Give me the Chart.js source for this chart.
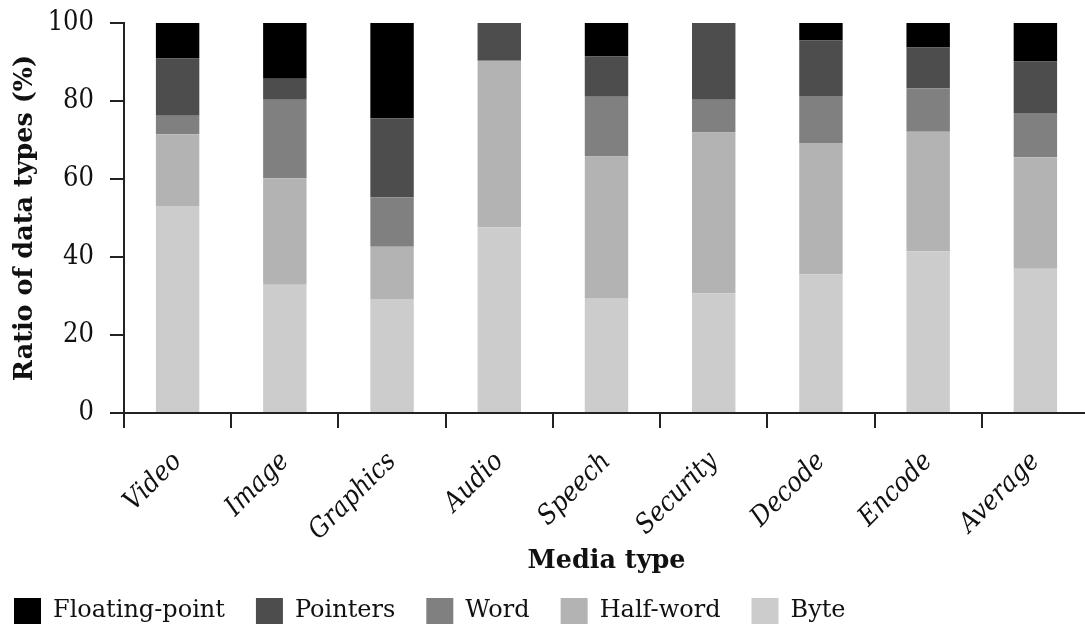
<!DOCTYPE html>
<html>
<head>
<meta charset="utf-8">
<script src="https://cdn.jsdelivr.net/npm/chart.js@4.4.1/dist/chart.umd.min.js"></script>
<style>
  html, body { margin: 0; padding: 0; background: #fff; overflow: hidden; }
  #wrap { width: 1092px; height: 625px; }
</style>
</head>
<body>
<div id="wrap"><canvas id="dataTypesChart"></canvas></div>
<script>
// Ratio of data types per media type (stacked to 100 %)

const categories = ["Video", "Image", "Graphics", "Audio", "Speech", "Security", "Decode", "Encode", "Average"];

const byteVals     = [53.1, 32.9, 29.2, 47.6, 29.5, 30.7, 35.6, 41.5, 37.0];
const halfWordVals = [18.4, 27.3, 13.4, 42.7, 36.3, 41.2, 33.6, 30.6, 28.6];
const wordVals     = [ 4.7, 20.1, 12.7,  0.0, 15.3,  8.4, 12.1, 11.2, 11.3];
const pointerVals  = [14.7,  5.4, 20.3,  9.7, 10.3, 19.7, 14.2, 10.4, 13.2];
const floatVals    = [ 9.1, 14.3, 24.4,  0.0,  8.6,  0.0,  4.5,  6.3,  9.9];

const yTicks = [0, 20, 40, 60, 80, 100];

const serif = "'DejaVu Serif', 'Liberation Serif', serif";
const serifNarrow = "'DejaVu Serif Condensed', 'DejaVu Serif', serif";
const axisColor = "#222222";

const data = {
	labels: categories,
	datasets: [
		{ label: "Byte", data: byteVals, backgroundColor: "#cccccc" },
		{ label: "Half-word", data: halfWordVals, backgroundColor: "#b3b3b3" },
		{ label: "Word", data: wordVals, backgroundColor: "#808080" },
		{ label: "Pointers", data: pointerVals, backgroundColor: "#4d4d4d" },
		{ label: "Floating-point", data: floatVals, backgroundColor: "#000000" },
	],
};

// put the legend where the original has it
const legendSpot = {
	id: "legendSpot",
	afterLayout(chart) {
		const pad = chart.options.plugins.legend.labels.padding;
		chart.legend.left = 14 - pad;
		chart.legend.top = 598 - pad;
	},
};

const config = {
	type: "bar",
	data: data,
	options: {
		responsive: true,
		maintainAspectRatio: false,
		animation: false,
		devicePixelRatio: 1,
		layout: { padding: { top: 23, left: 0, right: 3, bottom: 0 } },
		datasets: {
			bar: { categoryPercentage: 1.0, barPercentage: 0.405, borderWidth: 0 },
		},
		scales: {
			x: {
				stacked: true,
				grid: { drawOnChartArea: false, drawTicks: true, tickLength: 15, color: axisColor, lineWidth: 2 },
				border: { display: true, color: axisColor, width: 2 },
				ticks: {
					autoSkip: false,
					minRotation: 45,
					maxRotation: 45,
					padding: 18,
					color: "#111",
					font: { family: serifNarrow, size: 27, style: "italic" },
				},
				title: {
					display: true,
					text: "Media type",
					color: "#111",
					font: { family: serif, size: 25.5, weight: "bold" },
					padding: { top: 0, bottom: 8 },
				},
				afterFit(scale) {
					scale.height = 172;
					scale.paddingLeft = 0;
					scale.paddingRight = 0;
				},
			},
			y: {
				stacked: true,
				min: 0,
				max: 100,
				afterBuildTicks(scale) { scale.ticks = yTicks.map(v => ({ value: v })); },
				grid: { drawOnChartArea: false, drawTicks: true, tickLength: 14, color: axisColor, lineWidth: 2 },
				border: { display: true, color: axisColor, width: 2 },
				ticks: {
					padding: 16,
					color: "#111",
					font: { family: serifNarrow, size: 27 },
				},
				title: {
					display: true,
					text: "Ratio of data types (%)",
					color: "#111",
					font: { family: serif, size: 25.5, weight: "bold" },
					padding: { top: 10, bottom: 0 },
				},
				afterFit(scale) {
					scale.width = 124;
					scale.paddingTop = 0;
					scale.paddingBottom = 0;
				},
			},
		},
		plugins: {
			legend: {
				position: "bottom",
				align: "start",
				reverse: true,
				maxHeight: 40,
				labels: {
					boxWidth: 27,
					boxHeight: 26,
					padding: 31,
					color: "#111",
					font: { family: serif, size: 24 },
				},
			},
			tooltip: { enabled: false },
		},
	},
	plugins: [legendSpot],
};

const dataTypesChart = new Chart(document.getElementById("dataTypesChart"), config);
</script>
</body>
</html>
